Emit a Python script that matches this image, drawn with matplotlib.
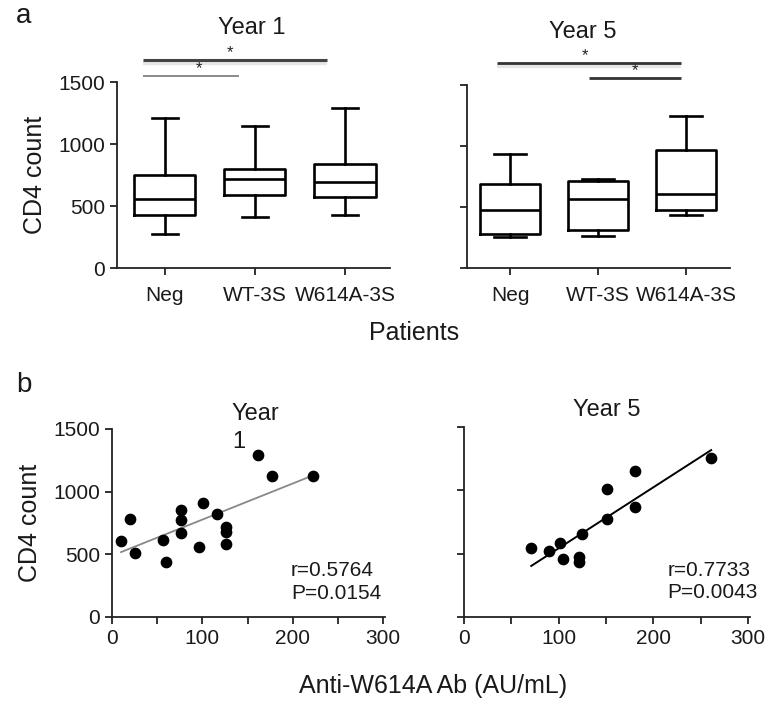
import matplotlib
matplotlib.use("Agg")
import matplotlib.pyplot as plt
import numpy as np

plt.rcParams['font.family'] = ['Liberation Sans', 'DejaVu Sans']

W, H = 772, 707

groups = ["Neg", "WT-3S", "W614A-3S"]
# min, q1, median, q3, max  (CD4 count)
y1_box = [[272, 427, 554, 750, 1212],
          [414, 589, 715, 796, 1148],
          [427, 575, 694, 839, 1288]]
y5_box = [[258, 275, 473, 685, 935],
          [261, 310, 568, 717, 731],
          [432, 478, 609, 967, 1247]]

# scatter: anti-W614A Ab vs CD4 count
y1_ab = [10, 20, 25, 56, 60, 76, 76, 76, 96, 101, 116, 126, 126, 126, 161, 177, 222]
y1_cd4 = [603, 783, 510, 611, 435, 855, 775, 674, 560, 908, 823, 722, 682, 581, 1293, 1126, 1126]
y5_ab = [71, 90, 101, 105, 121, 121, 125, 151, 151, 181, 181, 261]
y5_cd4 = [541, 520, 581, 457, 475, 436, 655, 1011, 771, 1151, 871, 1254]
y1_stats = "r=0.5764\nP=0.0154"
y5_stats = "r=0.7733\nP=0.0043"

fig = plt.figure(figsize=(W/100, H/100), dpi=100)

def px(x, y):
    return x/W, 1 - y/H

def style(ax):
    for s in ["top", "right"]:
        ax.spines[s].set_visible(False)
    for s in ["left", "bottom"]:
        ax.spines[s].set_linewidth(1.3)
        ax.spines[s].set_color("#222222")
    ax.tick_params(direction="out", length=5, width=1.3, color="#222222",
                   labelsize=15, labelcolor="#1a1a1a")

def boxes(ax, data, capw):
    stats = [dict(whislo=d[0], q1=d[1], med=d[2], q3=d[3], whishi=d[4], fliers=[])
             for d in data]
    lp = dict(color="black", linewidth=1.9)
    ax.bxp(stats, positions=range(3), widths=0.68, capwidths=capw, showfliers=False,
           boxprops=lp, medianprops=lp, whiskerprops=lp, capprops=lp)
    ax.set_xlim(-0.53, 2.5)
    ax.set_ylim(0, 1500)
    ax.set_yticks([0, 500, 1000, 1500])
    ax.set_xticks(range(3))
    ax.set_xticklabels(groups)
    ax.tick_params(axis="x", pad=8)

def sig(ax, x0, x1, y, sx, sy, lw, color, shadow=True):
    if shadow:
        ax.plot([x0, x1], [y - 22, y - 22], color="#e6e6e6", lw=lw + 1,
                clip_on=False, solid_capstyle="butt")
    ax.plot([x0, x1], [y, y], color=color, lw=lw, clip_on=False, solid_capstyle="butt")
    ax.text(sx, sy, "*", ha="center", va="center", fontsize=12, color="#222222")

# panel a, year 1
ax1 = fig.add_axes([117/W, 1 - 268/H, 273/W, 186/H])
style(ax1)
boxes(ax1, y1_box, 0.29)
ax1.set_ylabel("CD4 count", fontsize=18, color="#1a1a1a", labelpad=8)
sig(ax1, -0.24, 1.8, 1677, 0.72, 1740, 2.2, "#444444")
sig(ax1, -0.24, 0.82, 1548, 0.38, 1605, 1.2, "#777777", shadow=False)

# panel a, year 5
ax2 = fig.add_axes([467/W, 1 - 268/H, 263/W, 183/H])
style(ax2)
boxes(ax2, y5_box, 0.37)
ax2.set_xlim(-0.49, 2.5)
ax2.set_yticklabels([])
sig(ax2, -0.15, 1.94, 1681, 0.85, 1740, 2.0, "#333333")
sig(ax2, 0.90, 1.94, 1557, 1.42, 1620, 2.0, "#333333", shadow=False)

# panel b, year 1
ax3 = fig.add_axes([112/W, 1 - 617/H, 273/W, 188/H])
style(ax3)
ax3.scatter(y1_ab, y1_cd4, s=55, color="black", zorder=3)
k, b = np.polyfit(y1_ab, y1_cd4, 1)
xs = np.array([min(y1_ab), max(y1_ab)])
ax3.plot(xs, k*xs + b, color="#888888", lw=1.3)
ax3.set_xlim(0, 302)
ax3.set_ylim(0, 1500)
ax3.set_xticks([0, 100, 200, 300])
ax3.set_xticks([50, 150, 250], minor=True)
ax3.tick_params(axis="x", which="minor", length=5, width=1.3, color="#222222")
ax3.set_yticks([0, 500, 1000, 1500])
ax3.set_ylabel("CD4 count", fontsize=18, color="#1a1a1a", labelpad=8)
ax3.text(198, 280, y1_stats, fontsize=15, ha="left", va="center",
         color="#1a1a1a", linespacing=1.25)

# panel b, year 5
ax4 = fig.add_axes([464/W, 1 - 617/H, 286/W, 190/H])
style(ax4)
ax4.scatter(y5_ab, y5_cd4, s=55, color="black", zorder=3)
k, b = np.polyfit(y5_ab, y5_cd4, 1)
xs = np.array([min(y5_ab), max(y5_ab)])
ax4.plot(xs, k*xs + b, color="black", lw=1.4)
ax4.set_xlim(0, 302)
ax4.set_ylim(0, 1500)
ax4.set_xticks([0, 100, 200, 300])
ax4.set_xticks([50, 150, 250], minor=True)
ax4.tick_params(axis="x", which="minor", length=5, width=1.3, color="#222222")
ax4.set_yticks([0, 500, 1000, 1500])
ax4.set_yticklabels([])
ax4.text(215, 280, y5_stats, fontsize=15, ha="left", va="center",
         color="#1a1a1a", linespacing=1.25)

# titles and labels
tc = "#1a1a1a"
fig.text(*px(252, 28), "Year 1", fontsize=17, ha="center", va="center", color=tc)
fig.text(*px(583, 32), "Year 5", fontsize=17, ha="center", va="center", color=tc)
fig.text(*px(232, 428), "Year\n1", fontsize=17, ha="left", va="center", color=tc,
         linespacing=1.3)
fig.text(*px(607, 410), "Year 5", fontsize=17, ha="center", va="center", color=tc)
fig.text(*px(414, 333), "Patients", fontsize=18, ha="center", va="center", color=tc)
fig.text(*px(433, 686), "Anti-W614A Ab (AU/mL)", fontsize=18, ha="center",
         va="center", color=tc)
fig.text(*px(24, 16), "a", fontsize=20, ha="center", va="center", color=tc)
fig.text(*px(24, 385), "b", fontsize=20, ha="center", va="center", color=tc)

fig.savefig("out.png", dpi=100, facecolor="white")
